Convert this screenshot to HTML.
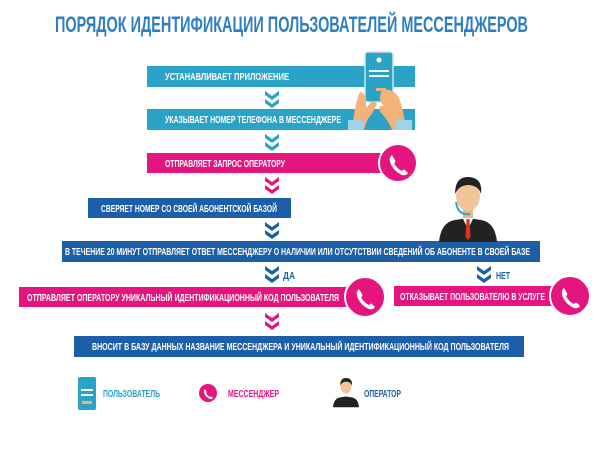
<!DOCTYPE html>
<html><head><meta charset="utf-8"><style>html,body{margin:0;padding:0;background:#fff}svg{display:block}</style></head><body>
<svg width="600" height="465" viewBox="0 0 600 465" xmlns="http://www.w3.org/2000/svg" font-family="Liberation Sans, sans-serif" font-weight="bold">
<defs>
<g id="chev"><path d="M-7,0 L0,5 L7,0 L7,4 L0,9 L-7,4Z"/><path d="M-7,8 L0,13 L7,8 L7,12 L0,17 L-7,12Z"/></g>
<g id="phone"><path d="M-6,-8 q-3,2 -2,7 q3,9 12,13 q4,1 6,-2 l-3,-3 q-2,-1 -3,1 q-5,-2 -8,-8 q2,-1 1,-3z" fill="#fff"/></g>
</defs>
<text x="55" y="32" font-size="22" fill="#2e7fc1" textLength="473" lengthAdjust="spacingAndGlyphs">ПОРЯДОК ИДЕНТИФИКАЦИИ ПОЛЬЗОВАТЕЛЕЙ МЕССЕНДЖЕРОВ</text>

<g font-size="10" fill="#fff">
<rect x="147" y="66" width="268" height="21" fill="#2aa3c6"/>
<text x="165" y="80" textLength="124" lengthAdjust="spacingAndGlyphs">УСТАНАВЛИВАЕТ ПРИЛОЖЕНИЕ</text>
<rect x="147" y="109" width="268" height="21" fill="#2aa3c6"/>
<text x="165" y="123" textLength="176" lengthAdjust="spacingAndGlyphs">УКАЗЫВАЕТ НОМЕР ТЕЛЕФОНА В МЕССЕНДЖЕРЕ</text>
<rect x="147" y="153" width="240" height="20" fill="#e4157f"/>
<text x="165" y="167" textLength="120" lengthAdjust="spacingAndGlyphs">ОТПРАВЛЯЕТ ЗАПРОС ОПЕРАТОРУ</text>
<rect x="88" y="198" width="203" height="20" fill="#1d5ea8"/>
<text x="101" y="212" textLength="176" lengthAdjust="spacingAndGlyphs">СВЕРЯЕТ НОМЕР СО СВОЕЙ АБОНЕНТСКОЙ БАЗОЙ</text>
<rect x="62" y="241" width="478" height="21" fill="#1d5ea8"/>
<text x="65" y="255" textLength="465" lengthAdjust="spacingAndGlyphs">В ТЕЧЕНИЕ 20 МИНУТ ОТПРАВЛЯЕТ ОТВЕТ МЕССЕНДЖЕРУ О НАЛИЧИИ ИЛИ ОТСУТСТВИИ СВЕДЕНИЙ ОБ АБОНЕНТЕ В СВОЕЙ БАЗЕ</text>
<rect x="19" y="287" width="340" height="20" fill="#e4157f"/>
<text x="27" y="301" textLength="312" lengthAdjust="spacingAndGlyphs">ОТПРАВЛЯЕТ ОПЕРАТОРУ УНИКАЛЬНЫЙ ИДЕНТИФИКАЦИОННЫЙ КОД ПОЛЬЗОВАТЕЛЯ</text>
<rect x="394" y="286" width="160" height="20" fill="#e4157f"/>
<text x="400" y="300" textLength="145" lengthAdjust="spacingAndGlyphs">ОТКАЗЫВАЕТ ПОЛЬЗОВАТЕЛЮ В УСЛУГЕ</text>
<rect x="74" y="336" width="450" height="21" fill="#1d5ea8"/>
<text x="92" y="350" textLength="417" lengthAdjust="spacingAndGlyphs">ВНОСИТ В БАЗУ ДАННЫХ НАЗВАНИЕ МЕССЕНДЖЕРА И УНИКАЛЬНЫЙ ИДЕНТИФИКАЦИОННЫЙ КОД ПОЛЬЗОВАТЕЛЯ</text>
</g>

<use href="#chev" x="272" y="91" fill="#2aa3c6"/>
<use href="#chev" x="272" y="134" fill="#2aa3c6"/>
<use href="#chev" x="272" y="177" fill="#e4157f"/>
<use href="#chev" x="272" y="222" fill="#1d5ea8"/>
<use href="#chev" x="272" y="266" fill="#1d5ea8"/>
<use href="#chev" x="484" y="266" fill="#1d5ea8"/>
<use href="#chev" x="272" y="313" fill="#e4157f"/>
<text x="283" y="279" font-size="10" fill="#1d5ea8" textLength="12" lengthAdjust="spacingAndGlyphs">ДА</text>
<text x="496" y="279" font-size="10" fill="#1d5ea8" textLength="14" lengthAdjust="spacingAndGlyphs">НЕТ</text>

<circle cx="398" cy="163" r="19" fill="#e4157f" stroke="#fff" stroke-width="2"/><use href="#phone" x="398" y="163"/>
<circle cx="365" cy="297" r="20" fill="#e4157f" stroke="#fff" stroke-width="2"/><use href="#phone" x="365" y="297"/>
<circle cx="570" cy="296" r="20" fill="#e4157f" stroke="#fff" stroke-width="2"/><use href="#phone" x="570" y="296"/>

<!-- hand phone -->
<rect x="365" y="52" width="28" height="50" rx="3" fill="#2aa3c6" stroke="#cfe3ea" stroke-width="1.5"/>
<circle cx="379" cy="60" r="2.5" fill="#fff"/>
<rect x="369" y="70" width="20" height="2" fill="#fff"/><rect x="369" y="75" width="20" height="2" fill="#fff"/><rect x="376" y="88" width="10" height="3" fill="#f3b27a"/>
<path d="M360,92 q-5,10 -8,38 h12 q3,-12 8,-16 l5,-10 q-2,-4 -6,-2 l-5,6 v-10 q-3,-6 -6,-6z" fill="#f3b27a"/>
<path d="M382,90 q10,-2 16,6 q5,10 8,34 h-14 q-4,-10 -10,-16 q-4,-4 -2,-8 l4,0 q-4,-4 -4,-8 q0,-4 2,-8z" fill="#f3b27a"/>
<path d="M348,120 h16 v10 h-16z M396,120 h16 v10 h-16z" fill="#9fd3e6"/>

<!-- operator -->
<g transform="translate(468,208)">
<path d="M-29,34 q2,-20 16,-22 l13,-2 l13,2 q14,2 16,22z" fill="#222"/>
<path d="M-6,9 l6,12 l6,-12z" fill="#fff"/><path d="M-1.5,11 h3 l1,18 l-2.5,3 l-2.5,-3z" fill="#d32"/>
<rect x="-5" y="2" width="10" height="8" fill="#e8b48a"/>
<ellipse cx="0" cy="-12" rx="12" ry="15" fill="#f2c49a"/>
<path d="M-13,-14 q0,-18 14,-17 q14,1 12,17 q-2,-8 -12,-9 q-10,0 -14,9z" fill="#222"/>
<path d="M-12,-6 q2,14 14,12" stroke="#2aa3c6" stroke-width="2" fill="none"/>
</g>

<!-- legend -->
<rect x="78" y="377" width="18" height="33" rx="2" fill="#2aa3c6"/>
<rect x="81" y="389" width="12" height="2" fill="#fff"/><rect x="81" y="394" width="12" height="2" fill="#fff"/><rect x="82" y="401" width="10" height="3" fill="#f3b27a"/>
<text x="103" y="397" font-size="10" fill="#2aa3c6" textLength="57" lengthAdjust="spacingAndGlyphs">ПОЛЬЗОВАТЕЛЬ</text>
<circle cx="208" cy="393" r="9" fill="#e4157f"/>
<g transform="translate(208,393) scale(0.5)"><use href="#phone"/></g>
<text x="228" y="397" font-size="10" fill="#e4157f" textLength="51" lengthAdjust="spacingAndGlyphs">МЕССЕНДЖЕР</text>
<g transform="translate(346,392) scale(0.45)">
<path d="M-29,34 q2,-20 16,-22 l13,-2 l13,2 q14,2 16,22z" fill="#222"/>
<ellipse cx="0" cy="-12" rx="12" ry="15" fill="#f2c49a"/>
<path d="M-13,-14 q0,-18 14,-17 q14,1 12,17 q-2,-8 -12,-9 q-10,0 -14,9z" fill="#222"/>
</g>
<text x="364" y="397" font-size="10" fill="#1d5ea8" textLength="37" lengthAdjust="spacingAndGlyphs">ОПЕРАТОР</text>
</svg>
</body></html>
